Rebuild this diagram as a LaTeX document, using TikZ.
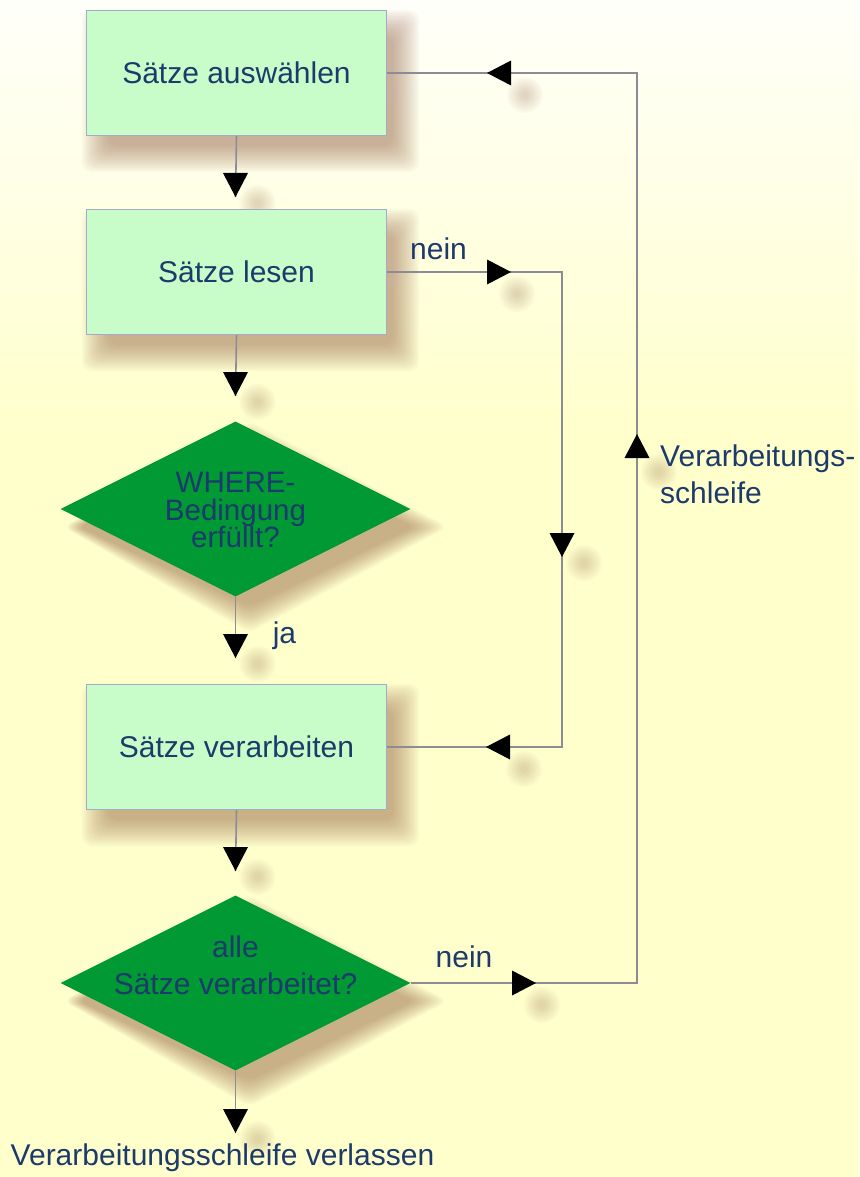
\documentclass[tikz,border=0pt]{standalone}
\usepackage{fontspec}
\setmainfont{Liberation Sans}
\usetikzlibrary{shapes.geometric,calc}

\definecolor{bgtop}{RGB}{255,255,250}
\definecolor{bgyel}{RGB}{255,255,204}
\definecolor{boxfill}{RGB}{200,252,200}
\definecolor{boxline}{RGB}{165,170,200}
\definecolor{diafill}{RGB}{0,153,51}
\definecolor{txt}{RGB}{28,58,108}
\definecolor{wire}{RGB}{140,140,150}
\definecolor{shade}{RGB}{140,85,55}

\pgfdeclarelayer{bg}
\pgfdeclarelayer{shadow}
\pgfsetlayers{bg,shadow,main}

\tikzset{
  label/.style={text=txt, font=\fontsize{30}{37}\selectfont, inner sep=0pt},
  stepbox/.style={rectangle, draw=boxline, line width=1.2pt, fill=boxfill,
      minimum width=300pt, minimum height=125pt, label, align=center},
  decision/.style={diamond, fill=diafill, minimum width=350pt,
      minimum height=175pt, inner sep=0pt},
  wireline/.style={draw=wire, line width=1.6pt},
  haze/.style={fill=shade, opacity=0.038},
  tri/.style={fill=black},
  % soft round blob under an arrow tip, offset down and right
  pics/blob/.style={code={%
    \begin{pgfonlayer}{shadow}
      \foreach \r in {18,16,14,12,10,8,6,4} {\fill[haze, opacity=0.03] (0,0) circle[radius=\r pt];}
    \end{pgfonlayer}}},
  pics/tridown/.style={code={\pic at (22,6) {blob};
      \path[tri] (0,0) -- (-12.5,-24) -- (12.5,-24) -- cycle;}},
  pics/triup/.style={code={\pic at (22,38) {blob};
      \path[tri] (0,0) -- (-12.5,24) -- (12.5,24) -- cycle;}},
  pics/triright/.style={code={\pic at (6,22) {blob};
      \path[tri] (0,0) -- (-24,-12.5) -- (-24,12.5) -- cycle;}},
  pics/trileft/.style={code={\pic at (38,22) {blob};
      \path[tri] (0,0) -- (24,-12.5) -- (24,12.5) -- cycle;}},
}

% soft shadow behind a rectangular step
\newcommand\boxhaze[1]{%
  \begin{pgfonlayer}{shadow}
    \foreach \e in {18,16,...,-8} {%
      \fill[haze, rounded corners=10pt]
        ($(#1.north west)+(14-\e,18-\e)$) rectangle ($(#1.south east)+(14+\e,18+\e)$);}
  \end{pgfonlayer}}
% soft shadow behind a decision diamond
\newcommand\diahaze[1]{%
  \begin{pgfonlayer}{shadow}
    \foreach \e in {18,16,...,-8} {%
      \fill[haze, rounded corners=8pt]
        ($(#1.north)+(14,18-\e)$) -- ($(#1.east)+(14+1.3*\e,18)$) --
        ($(#1.south)+(14,18+\e)$) -- ($(#1.west)+(14-0.6*\e,18)$) -- cycle;}
  \end{pgfonlayer}}

\begin{document}
\begin{tikzpicture}[x=1pt,y=-1pt]
\useasboundingbox (0,0) rectangle (859,1177);
% background: pale cream at the top fading into light yellow
\begin{pgfonlayer}{bg}
  \fill[bgyel] (0,0) rectangle (859,1177);
  \shade[top color=bgtop, bottom color=bgyel] (0,0) rectangle (859,430);
\end{pgfonlayer}

% steps and decisions
\node[stepbox] (b1) at (236.5,73) {Sätze auswählen};
\node[stepbox] (b2) at (236.5,272) {Sätze lesen};
\node[decision] (d1) at (235.5,509) {};
\node[label, font=\fontsize{29.5}{27.5}\selectfont, align=center] (t1) at (235.5,510) {WHERE-\\Bedingung\\erfüllt?};
\node[stepbox] (b3) at (236.5,747) {Sätze verarbeiten};
\node[decision] (d2) at (235.5,983) {};
\node[label, align=center] (t2) at (235.5,965) {alle\\Sätze verarbeitet?};
\boxhaze{b1}
\boxhaze{b2}
\boxhaze{b3}
\diahaze{d1}
\diahaze{d2}

% arrow tips (ends of the straight connectors)
\coordinate (a1) at (235.5,197);
\coordinate (a2) at (235.5,396);
\coordinate (a3) at (235.5,658);
\coordinate (a4) at (235.5,871);
\coordinate (a5) at (235.5,1133);
% corners of the two loops
\coordinate (k1) at (562,272);
\coordinate (k2) at (562,747);
\coordinate (k3) at (637,983);
\coordinate (k4) at (637,73);

% straight downward flow
\draw[wireline] (b1.south) -- (a1);
\draw[wireline] (b2.south) -- (a2);
\draw[wireline] (d1.south) -- (a3);
\draw[wireline] (b3.south) -- (a4);
\draw[wireline] (d2.south) -- (a5);
\pic at (a1) {tridown};
\pic at (a2) {tridown};
\pic at (a3) {tridown};
\pic at (a4) {tridown};
\pic at (a5) {tridown};

% inner loop: record not matching the WHERE condition
\draw[wireline] (b2.east) -- (k1) -- (k2) -- (b3.east);
\pic at (511,272) {triright};
\pic at (562,557) {tridown};
\pic at (486,747) {trileft};

% outer loop: processing loop back to selection
\draw[wireline] (d2.east) -- (k3) -- (k4) -- (b1.east);
\pic at (536,983) {triright};
\pic at (637,434) {triup};
\pic at (487,73) {trileft};

% labels
\node[label] (n1) at (438.5,249) {nein};
\node[label] (n2) at (464,957) {nein};
\node[label] (ja) at (284.5,636) {ja};
\node[label, anchor=north west, align=left] (loop) at (660,445) {Verarbeitungs-\\schleife};
\node[label] (exit) at (222.5,1158) {Verarbeitungsschleife verlassen};
\end{tikzpicture}
\end{document}
